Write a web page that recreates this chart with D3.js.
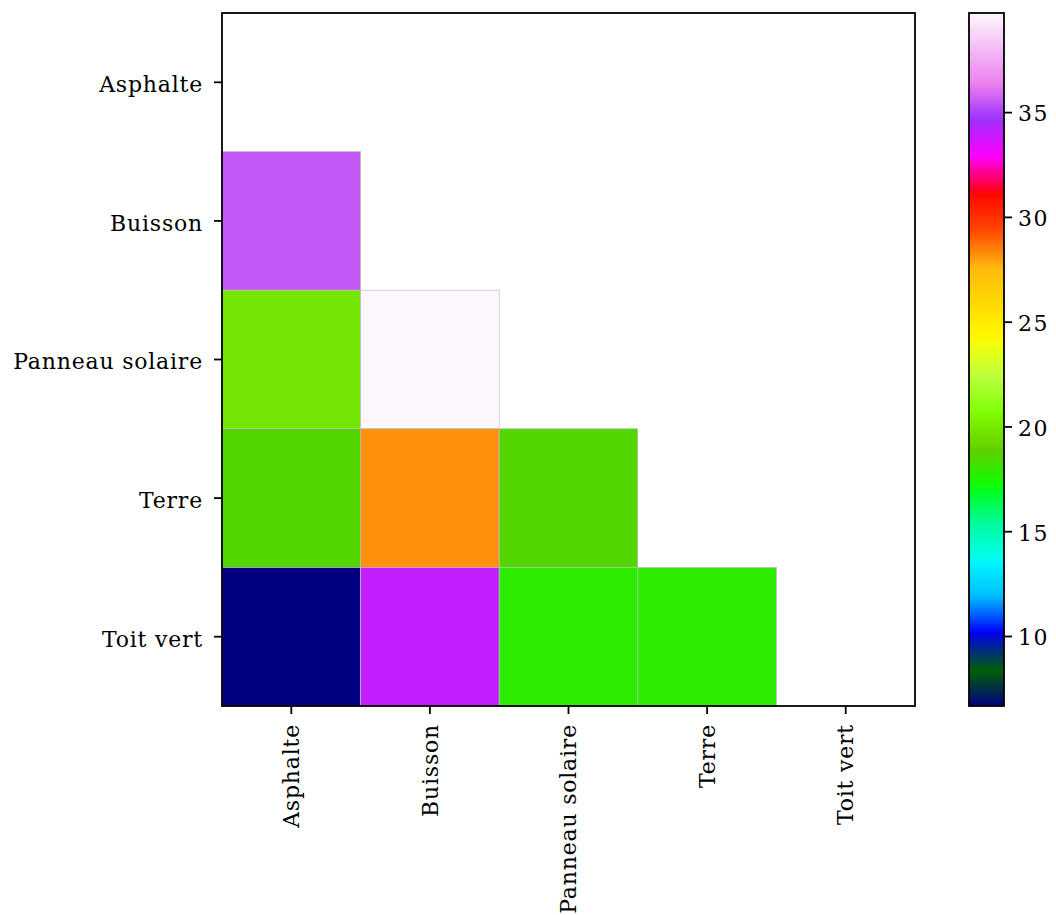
<!DOCTYPE html>
<html lang="en">
    <head>
        <meta charset="utf-8">
        <title>Heatmap</title>
        <script type="text/javascript" src="https://d3js.org/d3.v7.min.js"></script>
        <style type="text/css">
          body { margin: 0; background: white; }
          text { font-family: "DejaVu Serif", serif; }
        </style>
    </head>
    <body>
        <script type="text/javascript">
        var w = 1056;
        var h = 915;

        // categories (rows = y, cols = x)
        var rowLabels = ['Asphalte', 'Buisson', 'Panneau solaire', 'Terre', 'Toit vert'];
        var colLabels = ['Asphalte', 'Buisson', 'Panneau solaire', 'Terre', 'Toit vert'];
        // lower triangle values, null = masked
        var row0 = [null, null, null, null, null];
        var row1 = [35.5, null, null, null, null];
        var row2 = [19.8, 39.73, null, null, null];
        var row3 = [18.6, 28.2, 18.6, null, null];
        var row4 = [6.66, 34.0, 17.8, 17.8, null];
        var values = [row0, row1, row2, row3, row4];
        var cbTicks = [10, 15, 20, 25, 30, 35];

        // gist_ncar segment data
        var ncarR = [[0,0],[0.3098,0],[0.3725,0.3993],[0.4235,0.5003],[0.5333,1],[0.7922,1],[0.8471,0.6218],[0.8980,0.9235],[1,0.9961]];
        var ncarG = [[0,0],[0.0510,0.3722],[0.1059,0],[0.1569,0.7202],[0.1608,0.7537],[0.1647,0.7752],[0.2157,1],[0.2588,0.9804],[0.2706,0.9804],[0.3176,1],[0.3686,0.8081],[0.4275,1],[0.5216,1],[0.6314,0.7292],[0.6863,0.2796],[0.7451,0],[0.7922,0],[0.8431,0.1753],[0.8980,0.5],[1,0.9725]];
        var ncarB = [[0,0.502],[0.0510,0.0222],[0.1098,1],[0.2039,1],[0.2627,0.6145],[0.3216,0],[0.4157,0],[0.4745,0.2342],[0.5333,0],[0.5804,0],[0.6314,0.0549],[0.6902,0],[0.7373,0],[0.7922,0.9738],[0.8,1],[0.8431,1],[0.8980,0.9341],[1,0.9961]];

        function seg(pts, t) {
          for (var i = 1; i < pts.length; i++) {
            if (t <= pts[i][0]) {
              var a = pts[i-1], b = pts[i];
              var f = (t - a[0]) / (b[0] - a[0]);
              return a[1] + f * (b[1] - a[1]);
            }
          }
          return pts[pts.length-1][1];
        }
        function gistNcar(t) {
          t = Math.max(0, Math.min(1, t));
          return d3.rgb(seg(ncarR, t)*255, seg(ncarG, t)*255, seg(ncarB, t)*255).formatHex();
        }

        var flat = [];
        values.forEach(function(r, i){
          r.forEach(function(v, j){
            if (v !== null) flat.push({row: i, col: j, v: v});
          });
        });
        var vmin = d3.min(flat, function(d){ return d.v; });
        var vmax = d3.max(flat, function(d){ return d.v; });
        var color = d3.scaleSequential(gistNcar).domain([vmin, vmax]);

        var plot = {left: 222, top: 13, right: 915, bottom: 706};
        var cb = {left: 969, right: 1004, top: 13, bottom: 706};
        var labSz = "22px";
        var labSp = "0.8px";

        var svg = d3.select("body").append("svg")
                    .attr("width", w)
                    .attr("height", h);

        var x = d3.scaleBand().domain(colLabels).range([plot.left, plot.right]);
        var y = d3.scaleBand().domain(rowLabels).range([plot.top, plot.bottom]);

        svg.selectAll("rect.cell")
          .data(flat)
          .enter()
          .append("rect")
            .attr("class", "cell")
            .attr("x", function(d){ return x(colLabels[d.col]); })
            .attr("y", function(d){ return y(rowLabels[d.row]); })
            .attr("width", x.bandwidth())
            .attr("height", y.bandwidth())
            .attr("fill", function(d){ return color(d.v); })
            .attr("stroke", "#bdbdbd")
            .attr("stroke-width", 0.7);

        // frame
        svg.append("rect")
            .attr("x", plot.left)
            .attr("y", plot.top)
            .attr("width", plot.right - plot.left)
            .attr("height", plot.bottom - plot.top)
            .attr("fill", "none")
            .attr("stroke", "black")
            .attr("stroke-width", 1.8);

        var xAxis = svg.append("g")
            .attr("transform", "translate(0," + plot.bottom + ")")
            .call(d3.axisBottom(x).tickSize(8));
        xAxis.select(".domain").remove();
        xAxis.selectAll("line").attr("stroke-width", 1.8);
        xAxis.selectAll("text")
            .attr("font-size", labSz)
            .attr("letter-spacing", labSp)
            .attr("font-family", "DejaVu Serif")
            .attr("fill", "black")
            .attr("transform", "rotate(-90)")
            .attr("text-anchor", "end")
            .attr("x", -18)
            .attr("y", 0)
            .attr("dy", "0.35em");

        var yAxis = svg.append("g")
            .attr("transform", "translate(" + plot.left + ",0)")
            .call(d3.axisLeft(y).tickSize(8).tickPadding(11));
        yAxis.select(".domain").remove();
        yAxis.selectAll("line").attr("stroke-width", 1.8);
        yAxis.selectAll("text")
            .attr("font-size", labSz)
            .attr("letter-spacing", labSp)
            .attr("font-family", "DejaVu Serif")
            .attr("fill", "black")
            .attr("dy", "0.45em");

        // colorbar
        var defs = svg.append("defs");
        var grad = defs.append("linearGradient")
            .attr("id", "cbgrad")
            .attr("x1", 0).attr("x2", 0).attr("y1", 1).attr("y2", 0);
        d3.range(0, 257).forEach(function(i){
          var t = i / 256;
          grad.append("stop")
            .attr("offset", t)
            .attr("stop-color", gistNcar(t));
        });
        svg.append("rect")
            .attr("x", cb.left)
            .attr("y", cb.top)
            .attr("width", cb.right - cb.left)
            .attr("height", cb.bottom - cb.top)
            .attr("fill", "url(#cbgrad)")
            .attr("stroke", "black")
            .attr("stroke-width", 1.8);

        var cbScale = d3.scaleLinear().domain([vmin, vmax]).range([cb.bottom, cb.top]);
        var cbAxis = svg.append("g")
            .attr("transform", "translate(" + cb.right + ",0)")
            .call(d3.axisRight(cbScale).tickValues(cbTicks).tickSize(8).tickPadding(6));
        cbAxis.select(".domain").remove();
        cbAxis.selectAll("line").attr("stroke-width", 1.8);
        cbAxis.selectAll("text")
            .attr("font-size", labSz)
            .attr("letter-spacing", "1.5px")
            .attr("font-family", "DejaVu Serif")
            .attr("fill", "black")
            .attr("dy", "0.4em");
        </script>
    </body>
</html>
